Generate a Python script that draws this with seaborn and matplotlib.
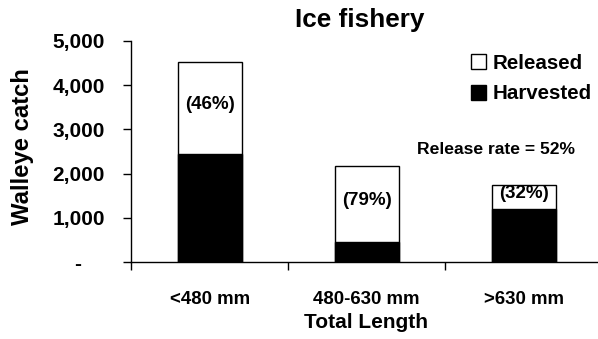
import matplotlib
matplotlib.use("Agg")
import matplotlib.pyplot as plt
from matplotlib.patches import Patch
from matplotlib.ticker import FixedLocator, FuncFormatter
import seaborn as sns
import pandas as pd

# Walleye catch in the ice fishery by total-length class
length_classes = ["<480 mm", "480-630 mm", ">630 mm"]
harvested = [2443, 452, 1196]
released = [2077, 1715, 558]
release_pct = ["(46%)", "(79%)", "(32%)"]
overall_rate = "Release rate = 52%"

total = [h + r for h, r in zip(harvested, released)]
df = pd.DataFrame({
    "length": length_classes,
    "harvested": harvested,
    "released": released,
    "total": total,
})

sns.set_theme(style="white")
plt.rcParams["font.family"] = ["Liberation Sans", "DejaVu Sans"]
plt.rcParams["font.weight"] = "bold"
for key in ["text.color", "axes.labelcolor", "xtick.color", "ytick.color",
            "axes.edgecolor"]:
    plt.rcParams[key] = "black"

fig = plt.figure(figsize=(5.98, 3.39), dpi=100)
W, H = 598, 339
ax = fig.add_axes([131.2 / W, 1 - 262.3 / H, (598 - 131.2) / W, (262.3 - 40.7) / H])

# stacked bars: full height (released on top) then harvested part in black
sns.barplot(data=df, x="length", y="total", color="white", edgecolor="black",
            linewidth=1.0, width=0.41, saturation=1, ax=ax)
sns.barplot(data=df, x="length", y="harvested", color="black", edgecolor="black",
            linewidth=1.0, width=0.41, saturation=1, ax=ax)

ax.set_xlim(-0.5, 2.473)
ax.set_ylim(0, 5000)

for i, (h, r, lab) in enumerate(zip(harvested, released, release_pct)):
    ax.annotate(lab, (i, h + r / 2), xytext=(0, 2.5), textcoords="offset points",
                ha="center", va="center", fontsize=13.5, fontweight="bold")

# axes styling
for s in ["top", "right"]:
    ax.spines[s].set_visible(False)
for s in ["left", "bottom"]:
    ax.spines[s].set_color("black")
    ax.spines[s].set_linewidth(1.0)


def accounting(v, pos):
    # zero shown as a dash, set in from the right like accounting format
    return "-    " if v == 0 else f"{int(v):,}"


ax.set_yticks([0, 1000, 2000, 3000, 4000, 5000])
ax.yaxis.set_major_formatter(FuncFormatter(accounting))
ax.tick_params(axis="y", direction="out", length=6, width=1, color="black",
               left=True, pad=13, labelsize=15)
for t in ax.get_yticklabels():
    t.set_fontweight("bold")

ax.set_xticks([0, 1, 2])
ax.set_xticklabels(length_classes, fontsize=13.4, fontweight="bold")
ax.tick_params(axis="x", which="major", length=0, pad=21)
ax.xaxis.set_minor_locator(FixedLocator([-0.5, 0.5, 1.5]))
ax.tick_params(axis="x", which="minor", direction="out", length=6, width=1,
               color="black", bottom=True)

ax.set_xlabel("")
ax.set_ylabel("")
fig.text(366 / W, 1 - 322 / H, "Total Length", ha="center", va="center",
         fontsize=15, fontweight="bold")
fig.text(22 / W, 1 - 147 / H, "Walleye catch", ha="center", va="center",
         rotation=90, fontsize=17.2, fontweight="bold")
fig.text(360 / W, 1 - 20 / H, "Ice fishery", ha="center", va="center",
         fontsize=18.8, fontweight="bold")
fig.text(496 / W, 1 - 149 / H, overall_rate, ha="center", va="center",
         fontsize=12.6, fontweight="bold")

handles = [Patch(facecolor="white", edgecolor="black", linewidth=1.0),
           Patch(facecolor="black", edgecolor="black", linewidth=1.0)]
leg = fig.legend(handles, ["Released", "Harvested"], loc="upper left",
                 bbox_to_anchor=(471 / W, 1 - 54 / H), frameon=False,
                 prop={"size": 14.8, "weight": "bold"}, handlelength=0.75,
                 handleheight=0.75, handletextpad=0.3, labelspacing=0.55,
                 borderaxespad=0, borderpad=0)

fig.savefig("out.png", dpi=100)
